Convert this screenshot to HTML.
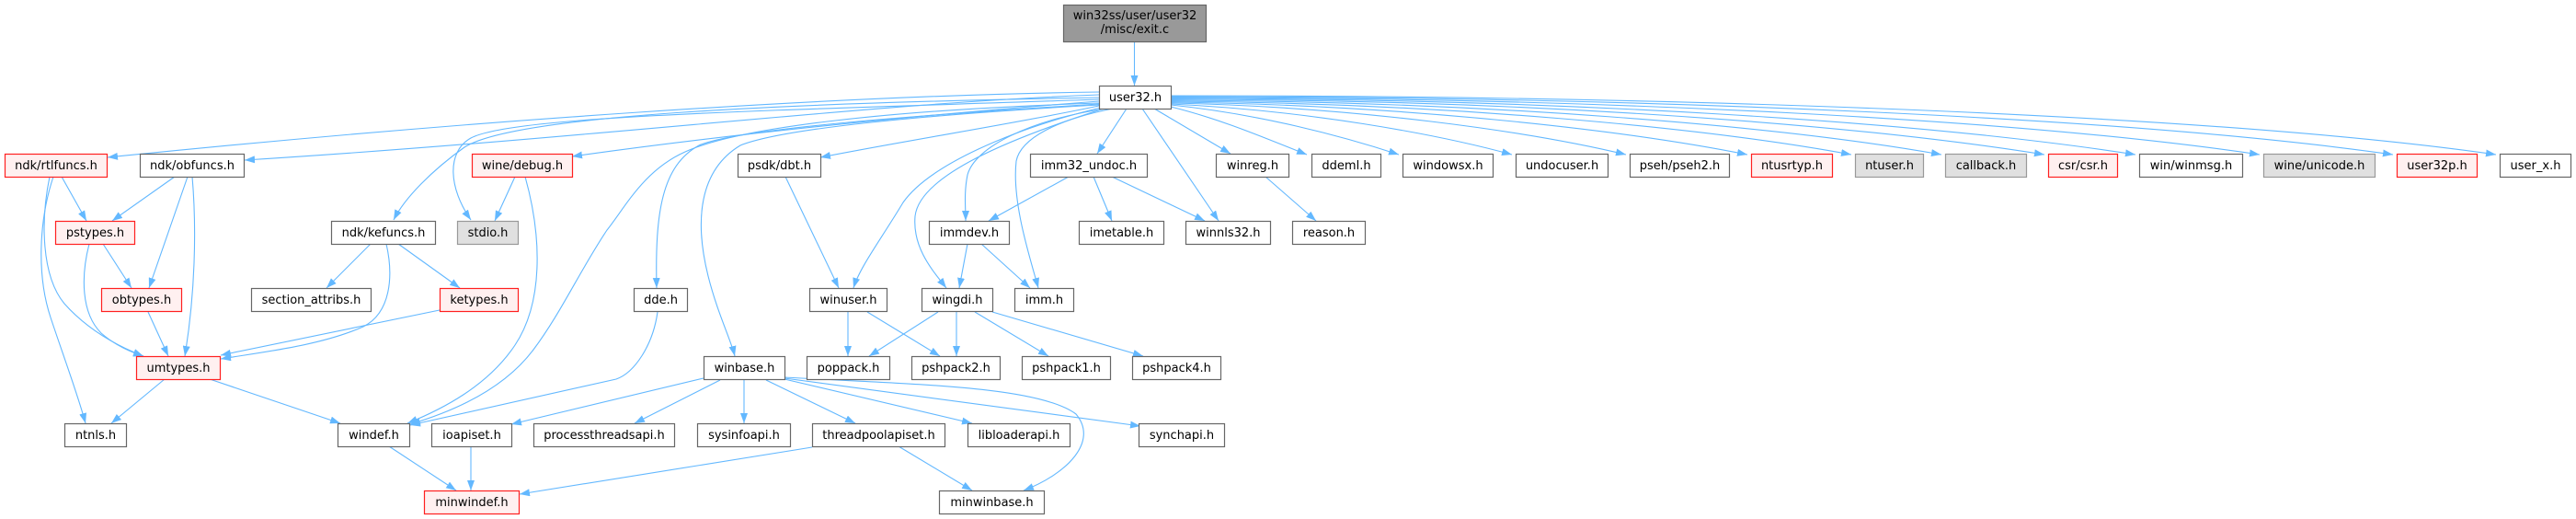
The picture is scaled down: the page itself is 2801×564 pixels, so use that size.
<!DOCTYPE html>
<html>
<head>
<meta charset="utf-8">
<style>
html,body{margin:0;padding:0;background:#fff;}
svg{display:block;}
text{font-family:"DejaVu Sans","Liberation Sans",sans-serif;font-size:13px;fill:#000;text-anchor:middle;}
.e{fill:none;stroke:#63b8ff;stroke-width:1.1;marker-end:url(#a);}
.n{fill:#fff;stroke:#666;stroke-width:1.2;}
.r{fill:#fff0f0;stroke:#ff2020;stroke-width:1.2;}
.g{fill:#e0e0e0;stroke:#999;stroke-width:1.2;}
.k{fill:#999;stroke:#666;stroke-width:1.2;}
</style>
</head>
<body>
<svg width="2801" height="564" viewBox="0 0 2801 564" xmlns="http://www.w3.org/2000/svg">
<defs>
<marker id="a" viewBox="0 0 11 8" refX="11" refY="4" markerWidth="11" markerHeight="8" orient="auto" markerUnits="userSpaceOnUse">
<path d="M0,0 L11,4 L0,8 z" fill="#63b8ff"/>
</marker>
</defs>

<!-- edges -->
<path class="e" d="M1233.5,45 L1233.5,93"/>

<!-- user32.h left fan -->
<path class="e" d="M1195,100 C900,104 500,132 117,171"/>
<path class="e" d="M1195,103 C950,112 650,150 266,174"/>
<path class="e" d="M1195,106 C850,112 560,125 505,160 C470,185 440,215 428,239"/>
<path class="e" d="M1195,108 C850,120 560,125 512,150 C485,165 488,205 512,239"/>
<path class="e" d="M1195,110 C1000,125 800,145 622,170"/>
<path class="e" d="M1195,112 C950,120 800,140 745,165 C700,185 680,225 660,250 C630,295 610,340 580,380 C550,420 500,445 446,461"/>
<path class="e" d="M1195,113 C1000,125 800,140 760,158 C720,180 712,230 714,313"/>
<path class="e" d="M1195,114 C1000,125 850,140 805,158 C760,185 755,240 770,300 C780,340 795,370 799,387"/>
<path class="e" d="M1195,115 C1100,135 1000,150 892,171"/>
<path class="e" d="M1197,117 C1100,140 1010,180 982,220 C958,260 935,290 928,313"/>
<path class="e" d="M1200,118 C1100,150 1000,190 995,235 C992,270 1015,295 1029,313"/>
<path class="e" d="M1203,118 C1120,130 1060,160 1052,190 C1048,210 1050,225 1050,240"/>
<path class="e" d="M1210,118 C1150,130 1110,150 1105,175 C1100,220 1120,280 1129,313"/>
<path class="e" d="M1225,118 L1193,167"/>
<path class="e" d="M1242,118 L1325,240"/>
<path class="e" d="M1255,118 L1338,167"/>

<!-- user32.h right fan -->
<path class="e" d="M1273,116 C1330,130 1380,152 1421,168"/>
<path class="e" d="M1273,114 C1370,124 1460,148 1521,168"/>
<path class="e" d="M1273,113 C1420,120 1560,145 1644,168"/>
<path class="e" d="M1273,112 C1470,116 1660,142 1768,168"/>
<path class="e" d="M1273,111 C1520,114 1760,140 1900,168"/>
<path class="e" d="M1273,110 C1570,112 1850,138 2013,168"/>
<path class="e" d="M1273,109 C1610,110 1930,136 2111,168"/>
<path class="e" d="M1273,108 C1650,108 2010,134 2223,168"/>
<path class="e" d="M1273,107 C1700,107 2090,132 2322,168"/>
<path class="e" d="M1273,106 C1750,106 2200,130 2457,168"/>
<path class="e" d="M1273,105 C1800,105 2320,128 2602,168"/>
<path class="e" d="M1273,104 C1850,104 2420,126 2714,168"/>

<!-- left cluster -->
<path class="e" d="M67,192 L94,240"/>
<path class="e" d="M54,192 C44,240 45,300 70,330 C95,358 125,375 156,387"/>
<path class="e" d="M58,192 C42,240 40,300 55,345 C70,390 85,430 93,460"/>
<path class="e" d="M190,192 L122,240"/>
<path class="e" d="M204,192 L162,313"/>
<path class="e" d="M209,192 C214,250 212,320 201,387"/>
<path class="e" d="M112,265 L143,313"/>
<path class="e" d="M97,265 C88,300 88,340 110,362 C125,375 140,382 156,387"/>
<path class="e" d="M161,339 L183,387"/>
<path class="e" d="M403,265 L355,313"/>
<path class="e" d="M433,265 L500,313"/>
<path class="e" d="M420,265 C428,300 425,340 395,355 C350,375 290,382 240,390"/>
<path class="e" d="M478,337 L240,386"/>
<path class="e" d="M560,192 L538,240"/>
<path class="e" d="M571,192 C590,260 590,330 560,375 C530,420 480,445 443,460"/>
<path class="e" d="M179,412 L121,460"/>
<path class="e" d="M228,412 L370,460"/>
<path class="e" d="M423,485 L496,533"/>
<path class="e" d="M512,485 L512,533"/>
<path class="e" d="M883,486 L565,537"/>
<path class="e" d="M977,485 L1057,533"/>
<path class="e" d="M715,339 C710,375 690,405 670,412 L446,462"/>

<!-- winbase -->
<path class="e" d="M765,411 L556,461"/>
<path class="e" d="M783,413 L690,460"/>
<path class="e" d="M809,413 L809,460"/>
<path class="e" d="M833,413 L930,460"/>
<path class="e" d="M853,412 L1057,460"/>
<path class="e" d="M853,411 L1240,463"/>
<path class="e" d="M853,410 C1000,418 1130,420 1170,450 C1195,480 1160,515 1113,533"/>

<!-- middle cluster -->
<path class="e" d="M854,192 L912,313"/>
<path class="e" d="M922,339 L922,387"/>
<path class="e" d="M943,339 L1022,387"/>
<path class="e" d="M1020,339 L945,387"/>
<path class="e" d="M1040,339 L1040,387"/>
<path class="e" d="M1060,339 L1140,387"/>
<path class="e" d="M1079,339 L1243,387"/>
<path class="e" d="M1052,265 L1043,313"/>
<path class="e" d="M1067,265 L1120,313"/>
<path class="e" d="M1162,192 L1075,240"/>
<path class="e" d="M1189,192 L1209,240"/>
<path class="e" d="M1209,192 L1310,240"/>
<path class="e" d="M1376,192 L1431,240"/>

<!-- nodes -->
<rect class="k" x="1156.5" y="5.5" width="155" height="40"/>
<text x="1234" y="21">win32ss/user/user32</text>
<text x="1234" y="36">/misc/exit.c</text>

<rect class="n" x="1195.5" y="93.5" width="78" height="25"/><text x="1234.5" y="110">user32.h</text>

<rect class="r" x="5.5" y="167.5" width="111" height="25"/><text x="61" y="184">ndk/rtlfuncs.h</text>
<rect class="n" x="152.5" y="167.5" width="113" height="25"/><text x="209" y="184">ndk/obfuncs.h</text>
<rect class="r" x="513.5" y="167.5" width="109" height="25"/><text x="568" y="184">wine/debug.h</text>
<rect class="n" x="802.5" y="167.5" width="90" height="25"/><text x="847.5" y="184">psdk/dbt.h</text>
<rect class="n" x="1120.5" y="167.5" width="127" height="25"/><text x="1184" y="184">imm32_undoc.h</text>
<rect class="n" x="1322.5" y="167.5" width="79" height="25"/><text x="1362" y="184">winreg.h</text>
<rect class="n" x="1426.5" y="167.5" width="75" height="25"/><text x="1464" y="184">ddeml.h</text>
<rect class="n" x="1525.5" y="167.5" width="98" height="25"/><text x="1574.5" y="184">windowsx.h</text>
<rect class="n" x="1648.5" y="167.5" width="100" height="25"/><text x="1698.5" y="184">undocuser.h</text>
<rect class="n" x="1772.5" y="167.5" width="108" height="25"/><text x="1826.5" y="184">pseh/pseh2.h</text>
<rect class="r" x="1904.5" y="167.5" width="88" height="25"/><text x="1948.5" y="184">ntusrtyp.h</text>
<rect class="g" x="2017.5" y="167.5" width="74" height="25"/><text x="2054.5" y="184">ntuser.h</text>
<rect class="g" x="2115.5" y="167.5" width="88" height="25"/><text x="2159.5" y="184">callback.h</text>
<rect class="r" x="2227.5" y="167.5" width="75" height="25"/><text x="2265" y="184">csr/csr.h</text>
<rect class="n" x="2326.5" y="167.5" width="112" height="25"/><text x="2382.5" y="184">win/winmsg.h</text>
<rect class="g" x="2461.5" y="167.5" width="121" height="25"/><text x="2522" y="184">wine/unicode.h</text>
<rect class="r" x="2606.5" y="167.5" width="87" height="25"/><text x="2650" y="184">user32p.h</text>
<rect class="n" x="2718.5" y="167.5" width="77" height="25"/><text x="2757" y="184">user_x.h</text>

<rect class="r" x="60.5" y="240.5" width="86" height="25"/><text x="103.5" y="257">pstypes.h</text>
<rect class="n" x="360.5" y="240.5" width="113" height="25"/><text x="417" y="257">ndk/kefuncs.h</text>
<rect class="g" x="497.5" y="240.5" width="66" height="25"/><text x="530.5" y="257">stdio.h</text>
<rect class="n" x="1010.5" y="240.5" width="87" height="25"/><text x="1054" y="257">immdev.h</text>
<rect class="n" x="1173.5" y="240.5" width="92" height="25"/><text x="1219.5" y="257">imetable.h</text>
<rect class="n" x="1289.5" y="240.5" width="92" height="25"/><text x="1335.5" y="257">winnls32.h</text>
<rect class="n" x="1405.5" y="240.5" width="79" height="25"/><text x="1445" y="257">reason.h</text>

<rect class="r" x="110.5" y="313.5" width="87" height="25"/><text x="154" y="330">obtypes.h</text>
<rect class="n" x="273.5" y="313.5" width="130" height="25"/><text x="338.5" y="330">section_attribs.h</text>
<rect class="r" x="478.5" y="313.5" width="85" height="25"/><text x="521" y="330">ketypes.h</text>
<rect class="n" x="689.5" y="313.5" width="58" height="25"/><text x="718.5" y="330">dde.h</text>
<rect class="n" x="880.5" y="313.5" width="84" height="25"/><text x="922.5" y="330">winuser.h</text>
<rect class="n" x="1002.5" y="313.5" width="77" height="25"/><text x="1041" y="330">wingdi.h</text>
<rect class="n" x="1103.5" y="313.5" width="64" height="25"/><text x="1135.5" y="330">imm.h</text>

<rect class="r" x="148.5" y="387.5" width="91" height="25"/><text x="194" y="404">umtypes.h</text>
<rect class="n" x="765.5" y="387.5" width="88" height="25"/><text x="809.5" y="404">winbase.h</text>
<rect class="n" x="877.5" y="387.5" width="90" height="25"/><text x="922.5" y="404">poppack.h</text>
<rect class="n" x="991.5" y="387.5" width="96" height="25"/><text x="1039.5" y="404">pshpack2.h</text>
<rect class="n" x="1111.5" y="387.5" width="96" height="25"/><text x="1159.5" y="404">pshpack1.h</text>
<rect class="n" x="1231.5" y="387.5" width="96" height="25"/><text x="1279.5" y="404">pshpack4.h</text>

<rect class="n" x="70.5" y="460.5" width="67" height="25"/><text x="104" y="477">ntnls.h</text>
<rect class="n" x="367.5" y="460.5" width="78" height="25"/><text x="406.5" y="477">windef.h</text>
<rect class="n" x="469.5" y="460.5" width="87" height="25"/><text x="513" y="477">ioapiset.h</text>
<rect class="n" x="580.5" y="460.5" width="153" height="25"/><text x="657" y="477">processthreadsapi.h</text>
<rect class="n" x="758.5" y="460.5" width="101" height="25"/><text x="809" y="477">sysinfoapi.h</text>
<rect class="n" x="883.5" y="460.5" width="144" height="25"/><text x="955.5" y="477">threadpoolapiset.h</text>
<rect class="n" x="1052.5" y="460.5" width="111" height="25"/><text x="1108" y="477">libloaderapi.h</text>
<rect class="n" x="1238.5" y="460.5" width="93" height="25"/><text x="1285" y="477">synchapi.h</text>

<rect class="r" x="461.5" y="533.5" width="103" height="25"/><text x="513" y="550">minwindef.h</text>
<rect class="n" x="1021.5" y="533.5" width="114" height="25"/><text x="1078.5" y="550">minwinbase.h</text>
</svg>
</body>
</html>
